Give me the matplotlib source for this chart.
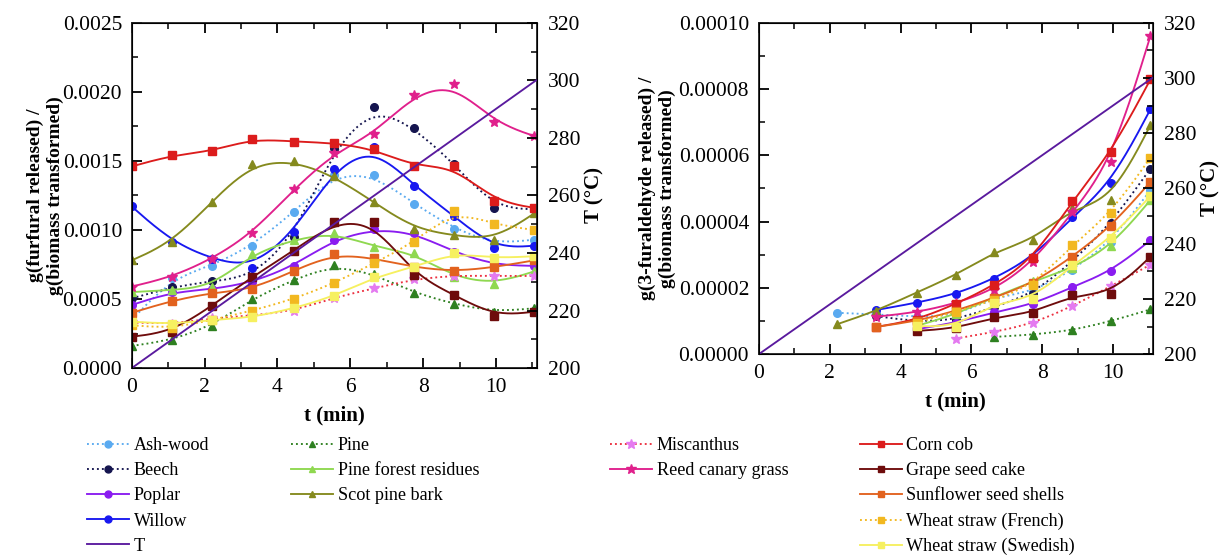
import numpy as np
import matplotlib
matplotlib.use("Agg")
import matplotlib.pyplot as plt
from matplotlib.lines import Line2D
from matplotlib.ticker import MultipleLocator, FormatStrFormatter

plt.rcParams['font.family'] = ['Liberation Serif', 'DejaVu Serif']

# sampling times (min)
t_left = [0, 1.1, 2.2, 3.3, 4.45, 5.55, 6.65, 7.75, 8.85, 9.95, 11.05]
t_right = [2.2, 3.3, 4.45, 5.55, 6.65, 7.75, 8.85, 9.95, 11.05]

# temperature ramp (°C)
t_ramp = [0, 11.1]
T_ramp = [200, 300]

# furfural, g/g (x 1e-4)
ash_l = [3.5, 6.5, 7.4, 8.86, 11.3, 14.0, 14.0, 11.9, 10.1, 9.0, 9.3]
beech_l = [5.05, 5.85, 6.3, 6.6, 9.5, 15.9, 18.9, 17.4, 14.8, 11.6, 11.5]
poplar_l = [4.57, 5.5, 5.7, 6.2, 7.4, 9.3, 10.05, 9.8, 8.4, 7.46, 7.4]
willow_l = [11.7, 9.15, 7.9, 7.27, 9.83, 14.4, 16.0, 13.2, 11.0, 8.67, 8.86]
pine_l = [1.6, 2.03, 3.07, 5.0, 6.4, 7.46, 6.8, 5.46, 4.64, 4.08, 4.33]
pfr_l = [5.5, 5.65, 5.9, 8.26, 9.3, 9.8, 8.8, 8.3, 6.6, 6.1, 7.0]
spb_l = [7.8, 9.1, 12.05, 14.8, 15.0, 13.9, 12.0, 10.1, 9.6, 9.3, 11.2]
misc_l = [3.3, 3.2, 3.6, 3.8, 4.15, 5.1, 5.77, 6.43, 6.7, 6.67, 6.67]
reed_l = [5.9, 6.6, 7.9, 9.75, 12.95, 15.55, 16.96, 19.8, 20.56, 17.8, 16.8]
corn_l = [14.6, 15.4, 15.7, 16.6, 16.4, 16.3, 15.85, 14.6, 14.6, 12.1, 11.6]
grape_l = [2.27, 2.63, 4.5, 6.6, 8.5, 10.55, 10.55, 6.74, 5.3, 3.77, 4.08]
sun_l = [4.0, 4.88, 5.45, 5.7, 7.05, 8.26, 7.95, 7.3, 7.0, 7.3, 7.8]
wsf_l = [3.1, 2.88, 3.48, 4.15, 5.0, 6.14, 7.59, 9.1, 11.4, 10.4, 10.0]
wss_l = [3.36, 3.19, 3.48, 3.67, 4.32, 5.2, 6.57, 7.3, 8.35, 7.95, 8.1]

# 3-furaldehyde, g/g (x 1e-5); series start at different times
ash_r = [1.25, 1.2, 1.13, 1.15, 1.73, 1.88, 2.54, 3.4, 4.95]
spb_r = [0.9, 1.3, 1.86, 2.38, 3.09, 3.46, 4.4, 4.65, 6.91]
willow_r = [1.33, 1.55, 1.81, 2.28, 2.94, 4.14, 5.17, 7.39]
reed_r = [1.13, 1.26, 1.53, 1.95, 2.79, 4.28, 5.8, 9.6]
corn_r = [0.82, 1.03, 1.51, 2.08, 2.89, 4.63, 6.1, 8.29]
sun_r = [0.82, 1.0, 1.3, 1.71, 2.15, 2.94, 3.86, 5.2]
beech_r = [1.15, 0.98, 1.03, 1.43, 1.83, 2.79, 3.96, 5.6]
grape_r = [0.7, 0.78, 1.11, 1.25, 1.78, 1.83, 2.94]
wsf_r = [0.95, 1.28, 1.63, 2.1, 3.29, 4.27, 5.93]
wss_r = [0.85, 0.82, 1.55, 1.68, 2.69, 3.52, 4.77]
poplar_r = [0.75, 0.95, 1.27, 1.51, 2.03, 2.5, 3.44]
pfr_r = [0.85, 1.2, 1.73, 2.2, 2.6, 3.26, 4.65]
misc_r = [0.47, 0.67, 0.93, 1.45, 2.06, 2.7]
pine_r = [0.52, 0.59, 0.72, 1.0, 1.35]


def bspline(x, y, k=24):
    # uniform cubic B-spline using the points as control points (ends clamped)
    px = np.r_[x[0], x[0], x, x[-1], x[-1]]
    py = np.r_[y[0], y[0], y, y[-1], y[-1]]
    s = np.linspace(0, 1, k, endpoint=False)
    B = np.stack([(1 - s) ** 3, 3 * s ** 3 - 6 * s ** 2 + 4,
                  -3 * s ** 3 + 3 * s ** 2 + 3 * s + 1, s ** 3], axis=1) / 6
    xs, ys = [], []
    for i in range(len(px) - 3):
        xs.append(B @ px[i:i + 4])
        ys.append(B @ py[i:i + 4])
    return np.r_[np.concatenate(xs), x[-1]], np.r_[np.concatenate(ys), y[-1]]


# name, line colour, marker colour, linestyle, marker, left data, right data
series = [
    ("Ash-wood", "#5aaaf0", "#5aaaf0", ":", "o", ash_l, ash_r),
    ("Beech", "#15154f", "#15154f", ":", "o", beech_l, beech_r),
    ("Poplar", "#8a1cf0", "#8a1cf0", "-", "o", poplar_l, poplar_r),
    ("Willow", "#1818f0", "#1818f0", "-", "o", willow_l, willow_r),
    ("Pine", "#2e8020", "#2e8020", ":", "^", pine_l, pine_r),
    ("Pine forest residues", "#8fd850", "#8fd850", "-", "^", pfr_l, pfr_r),
    ("Scot pine bark", "#858a1e", "#858a1e", "-", "^", spb_l, spb_r),
    ("Miscanthus", "#ec3040", "#e47af0", ":", "*", misc_l, misc_r),
    ("Reed canary grass", "#e0208c", "#e0208c", "-", "*", reed_l, reed_r),
    ("Corn cob", "#dc1c1c", "#dc1c1c", "-", "s", corn_l, corn_r),
    ("Grape seed cake", "#6e0c0c", "#6e0c0c", "-", "s", grape_l, grape_r),
    ("Sunflower seed shells", "#e2621e", "#e2621e", "-", "s", sun_l, sun_r),
    ("Wheat straw (French)", "#f2b820", "#f2b820", ":", "s", wsf_l, wsf_r),
    ("Wheat straw (Swedish)", "#f6f060", "#f6f060", "-", "s", wss_l, wss_r),
]
T_color = "#5a1a9e"
LW = 1.35

fig = plt.figure(figsize=(12.2, 5.56), dpi=100)
axL = fig.add_axes([0.108, 0.338, 0.332, 0.621])
axR = fig.add_axes([0.622, 0.363, 0.323, 0.596])

for name, lc, mc, ls, mk, yl, yr in series:
    ms = 7.5 if mk == "*" else 5.5
    # left panel
    x = np.array(t_left, float)
    y = np.array(yl) * 1e-4
    xs, ys = bspline(x, y)
    axL.plot(xs, ys, color=lc, ls=ls, lw=LW)
    axL.plot(x, y, ls="none", marker=mk, color=mc, ms=ms)
    # right panel
    y2 = np.array(yr) * 1e-5
    x2 = np.array(t_right[len(t_right) - len(yr):], float)
    xs2, ys2 = bspline(x2, y2)
    axR.plot(xs2, ys2, color=lc, ls=ls, lw=LW)
    axR.plot(x2, y2, ls="none", marker=mk, color=mc, ms=ms)

tick_fs = 15.5
for ax, ymax, ystep, fmt, ylab, lpad in [
        (axL, 0.0025, 0.0005, "%.4f", "g(furfural released) /\ng(biomass transformed)", -1),
        (axR, 0.0001, 0.00002, "%.5f", "g(3-furaldehyde released) /\ng(biomass transformed)", 2)]:
    ax.set_xlim(0, 11.12)
    ax.set_ylim(0, ymax)
    ax.xaxis.set_major_locator(MultipleLocator(2))
    ax.xaxis.set_minor_locator(MultipleLocator(1))
    ax.yaxis.set_major_locator(MultipleLocator(ystep))
    ax.yaxis.set_minor_locator(MultipleLocator(ystep / 2))
    ax.yaxis.set_major_formatter(FormatStrFormatter(fmt))
    ax.tick_params(which="both", direction="in", top=True, labelsize=tick_fs, pad=7)
    ax.tick_params(which="major", length=7, width=1.3)
    ax.tick_params(which="minor", length=4, width=1.1)
    for sp in ax.spines.values():
        sp.set_linewidth(1.3)
        sp.set_color("#222222")
    ax.set_xlabel("t (min)", fontsize=15, fontweight="bold", labelpad=6)
    ax.set_ylabel(ylab, fontsize=14, fontweight="bold", labelpad=lpad)

    axT = ax.twinx()
    axT.plot(t_ramp, T_ramp, color=T_color, lw=LW)
    axT.set_ylim(200, 320)
    axT.yaxis.set_major_locator(MultipleLocator(20))
    axT.yaxis.set_minor_locator(MultipleLocator(10))
    axT.tick_params(which="both", direction="in", labelsize=tick_fs, pad=8)
    axT.tick_params(which="major", length=7, width=1.3)
    axT.tick_params(which="minor", length=4, width=1.1)
    axT.set_ylabel("T (°C)", fontsize=15, fontweight="bold", labelpad=3)

# legend, four columns under the panels
handles = []
for name, lc, mc, ls, mk, yl, yr in series:
    handles.append(Line2D([], [], color=lc, ls=ls, lw=LW, marker=mk,
                          markerfacecolor=mc, markeredgecolor=mc,
                          ms=7 if mk == "*" else 5, label=name))
T_handle = Line2D([], [], color=T_color, lw=LW, label="T")

cols = [handles[0:4] + [T_handle], handles[4:7], handles[7:9], handles[9:14]]
col_x = [0.0656, 0.2328, 0.4943, 0.699]
for hs, cx in zip(cols, col_x):
    fig.legend(handles=hs, loc="upper left", bbox_to_anchor=(cx, 0.227),
               frameon=False, fontsize=13.1, handlelength=2.3,
               handletextpad=0.25, labelspacing=0.45, borderaxespad=0)

fig.savefig("out.png", dpi=100)
